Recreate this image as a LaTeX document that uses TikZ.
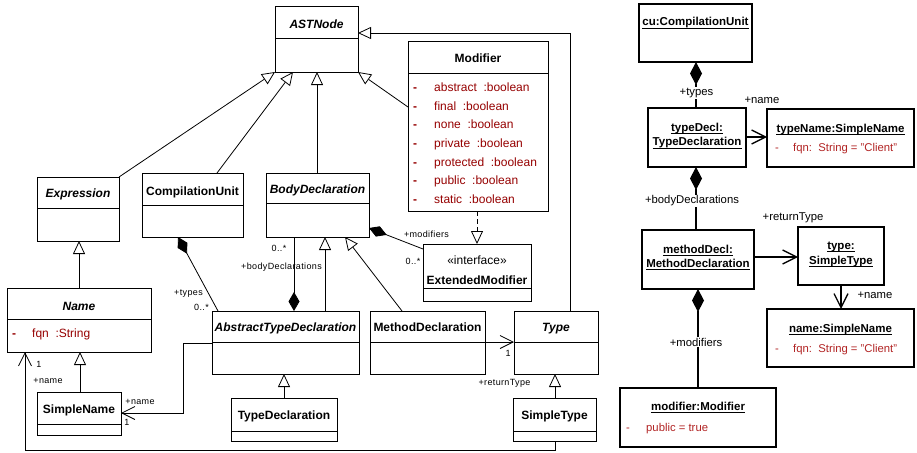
\documentclass[tikz,border=0pt]{standalone}
\usepackage{fontspec}
\setmainfont{Liberation Sans}
\newfontfamily\lblfont[LetterSpace=4]{Liberation Sans}
\usetikzlibrary{arrows.meta}
\definecolor{attrred}{RGB}{150,0,0}
\definecolor{valred}{RGB}{178,36,36}

% class box with one compartment line: name, x1, y1, x2, y2, y of compartment line
\newcommand\umlclass[6]{%
  \node[classbox, minimum width={(#4-#2)*1pt}, minimum height={(#5-#3)*1pt}] (#1) at ({(#2+#4)/2},{(#3+#5)/2}) {};
  \draw[line width=1pt] (#1.west |- 0,#6) -- (#1.east |- 0,#6);
}
% object box: name, x1, y1, x2, y2
\newcommand\umlobject[5]{%
  \node[objbox, minimum width={(#4-#2)*1pt}, minimum height={(#5-#3)*1pt}] (#1) at ({(#2+#4)/2},{(#3+#5)/2}) {};
}
% underlined object title line: name, x, baseline y, text
\newcommand\objtitle[4]{%
  \node[otitle, anchor=base] (#1) at (#2,#3) {#4};
  \draw[line width=1.1pt] ([yshift=-2.6pt]#1.base west) -- ([yshift=-2.6pt]#1.base east);
}

\tikzset{
  classbox/.style={draw, line width=1pt, inner sep=0pt, outer sep=0pt},
  objbox/.style={draw, line width=1.3pt, inner sep=0pt, outer sep=0pt},
  ctitle/.style={font=\fontsize{12}{14}\selectfont\bfseries, inner sep=0pt, anchor=base},
  cititle/.style={font=\fontsize{12}{14}\selectfont\bfseries\itshape, inner sep=0pt, anchor=base},
  stereo/.style={font=\fontsize{12}{14}\selectfont, inner sep=0pt, anchor=base},
  otitle/.style={font=\fontsize{11.5}{13}\selectfont\bfseries, inner sep=0pt},
  attrtext/.style={font=\fontsize{12}{14}\selectfont, text=attrred, anchor=base west, inner sep=0pt},
  attrdash/.style={font=\fontsize{12}{14}\selectfont\bfseries, text=attrred, anchor=base west, inner sep=0pt},
  valtext/.style={font=\fontsize{11.3}{13}\selectfont, text=valred, anchor=base west, inner sep=0pt},
  rolelbl/.style={font=\lblfont\fontsize{9}{10}\selectfont, inner sep=0pt},
  orolelbl/.style={font=\fontsize{11.3}{13}\selectfont, inner sep=1pt, fill=white},
  gen/.style={line width=0.8pt, -{Triangle[open, length=13pt, width=12pt, fill=white]}},
  realize/.style={gen, dash pattern=on 5pt off 3pt},
  assoc/.style={line width=0.8pt, -{Straight Barb[length=13pt, width=13pt]}},
  comp/.style={line width=0.8pt, {Diamond[length=19pt, width=11pt]}-},
  oassoc/.style={line width=1.3pt, -{Straight Barb[length=14pt, width=14pt]}},
  ocomp/.style={line width=1.3pt, {Diamond[length=23pt, width=12pt]}-},
}

\begin{document}
\begin{tikzpicture}[x=1pt, y=-1pt]
\fill[white] (0,0) rectangle (917,452);
\useasboundingbox (0,0) rectangle (917,452);

% ---------------- class diagram ----------------
\umlclass{ast}{275}{7}{358}{72}{39}
\node[cititle] (ast-t) at (316.5,29) {ASTNode};

\umlclass{mod}{408}{42}{548}{211}{73}
\node[ctitle] (mod-t) at (478,63) {Modifier};
\foreach \a [count=\i] in {abstract, final, none, private, protected, public, static} {
  \node[attrdash] (mod-d\i) at (413,{91.5+(\i-1)*18.67}) {-};
  \node[attrtext] (mod-a\i) at (434,{91.5+(\i-1)*18.67}) {\a~~:boolean};
}

\umlclass{expr}{37}{177}{119}{241}{208}
\node[cititle] (expr-t) at (78,197) {Expression};

\umlclass{cu}{142}{173}{243}{237}{205}
\node[ctitle] (cu-t) at (192.5,195) {CompilationUnit};

\umlclass{bd}{266}{173}{369}{237}{203}
\node[cititle] (bd-t) at (317.5,193.5) {BodyDeclaration};

\umlclass{name}{7}{288}{151}{352}{319}
\node[cititle] (name-t) at (79,310) {Name};
\node[attrdash] (name-d) at (12,337) {-};
\node[attrtext] (name-a) at (32,337) {fqn~~:String};

\umlclass{sn}{37}{392}{121}{435}{424}
\node[ctitle] (sn-t) at (79,413) {SimpleName};

\umlclass{atd}{212}{311}{359}{374}{342}
\node[cititle] (atd-t) at (285.5,331.5) {AbstractTypeDeclaration};

\umlclass{md}{370}{311}{485}{374}{342}
\node[ctitle] (md-t) at (427.5,331.5) {MethodDeclaration};

\umlclass{type}{514}{311}{598}{374}{342}
\node[cititle] (type-t) at (556,331.5) {Type};

\umlclass{td}{231}{398}{337}{441}{431}
\node[ctitle] (td-t) at (284,419.5) {TypeDeclaration};

\umlclass{st}{513}{398}{596}{441}{431}
\node[ctitle] (st-t) at (554.5,419.5) {SimpleType};

\umlclass{em}{423}{244}{531}{301}{288}
\node[stereo] (em-s) at (477,264.5) {«interface»};
\node[ctitle] (em-t) at (477,284) {ExtendedModifier};

% generalizations and realization
\draw[gen] (expr.north east) -- (ast.south west);
\draw[gen] (cu.north -| 217,0) -- (ast.south -| 293,0);
\draw[gen] (bd.north -| 317,0) -- (ast.south -| 317,0);
\draw[gen] (mod.west |- 0,107) -- (ast.south east);
\draw[gen] (type.north -| 570,0) |- (ast.east |- 0,33);
\draw[gen] (name.north -| 79,0) -- (expr.south -| 79,0);
\draw[gen] (sn.north -| 80,0) -- (name.south -| 80,0);
\draw[gen] (md.north -| 402,0) -- (bd.south -| 345,0);
\draw[gen] (atd.north -| 325,0) -- (bd.south -| 325,0);
\draw[gen] (td.north -| 284,0) -- (atd.south -| 284,0);
\draw[gen] (st.north -| 555,0) -- (type.south -| 555,0);
\draw[realize] (mod.south -| 477,0) -- (em.north -| 477,0);

% compositions
\draw[comp] (bd.east |- 0,228) -- (em.west |- 0,249);
\draw[comp] (atd.north -| 294,0) -- (bd.south -| 294,0);
\draw[comp] (cu.south -| 178,0) -- (atd.north -| 218,0);

% associations
\draw[assoc] (atd.west |- 0,343) -| (183,413) -- (sn.east |- 0,413);
\draw[assoc] (st.south -| 555,0) |- (25,450) -- (name.south -| 25,0);
\draw[assoc] (md.east |- 0,342) -- (type.west |- 0,342);

% role names and multiplicities
\node[rolelbl] (l-bd0) at (279,248) {0..*};
\node[rolelbl] (l-bd) at (281.5,267) {+bodyDeclarations};
\node[rolelbl] (l-ty) at (188.5,294) {+types};
\node[rolelbl] (l-ty0) at (201.5,307) {0..*};
\node[rolelbl] (l-mo) at (426.5,234) {+modifiers};
\node[rolelbl] (l-mo0) at (413,261) {0..*};
\node[rolelbl] (l-sn) at (140,402) {+name};
\node[rolelbl] (l-sn1) at (127,422) {1};
\node[rolelbl] (l-nm1) at (39,364) {1};
\node[rolelbl] (l-nm) at (48,381) {+name};
\node[rolelbl] (l-rt1) at (508,353) {1};
\node[rolelbl] (l-rt) at (504.5,383) {+returnType};

% ---------------- object diagram ----------------
\umlobject{ocu}{639}{4}{752}{62}
\objtitle{ocu-t}{695.5}{26}{cu:CompilationUnit}

\umlobject{otd}{648}{108}{746}{167}
\objtitle{otd-t1}{697}{131}{typeDecl:}
\objtitle{otd-t2}{697}{145.5}{TypeDeclaration}

\umlobject{otn}{767}{109}{914}{167}
\objtitle{otn-t}{840.5}{132}{typeName:SimpleName}
\node[valtext] (otn-d) at (775,151.5) {-};
\node[valtext] (otn-a) at (793,151.5) {fqn:~~String = "Client"};

\umlobject{omd}{642}{230}{754}{289}
\objtitle{omd-t1}{698}{253}{methodDecl:}
\objtitle{omd-t2}{698}{267}{MethodDeclaration}

\umlobject{ost}{798}{227}{884}{285}
\objtitle{ost-t1}{841}{249}{type:}
\objtitle{ost-t2}{841}{264}{SimpleType}

\umlobject{osn}{767}{309}{914}{367}
\objtitle{osn-t}{840.5}{332}{name:SimpleName}
\node[valtext] (osn-d) at (775,352) {-};
\node[valtext] (osn-a) at (793,352) {fqn:~~String = "Client"};

\umlobject{omod}{620}{388}{776}{447}
\objtitle{omod-t}{698}{410}{modifier:Modifier}
\node[valtext] (omod-d) at (626,431) {-};
\node[valtext] (omod-a) at (646,431) {public = true};

% links
\draw[ocomp] (ocu.south -| 696,0) -- (otd.north -| 696,0);
\draw[oassoc] (otd.east |- 0,137) -- (otn.west |- 0,137);
\draw[ocomp] (otd.south -| 696,0) -- (omd.north -| 696,0);
\draw[oassoc] (omd.east |- 0,257) -- (ost.west |- 0,257);
\draw[oassoc] (ost.south -| 841,0) -- (osn.north -| 841,0);
\draw[ocomp] (omd.south -| 698,0) -- (omod.north -| 698,0);

\node[orolelbl] (o-ty) at (696.5,93) {+types};
\node[orolelbl, fill=none] (o-nm) at (762,100) {+name};
\node[orolelbl] (o-bd) at (692,201) {+bodyDeclarations};
\node[orolelbl, fill=none] (o-rt) at (793,218) {+returnType};
\node[orolelbl, fill=none] (o-nm2) at (875,295) {+name};
\node[orolelbl] (o-mo) at (696,342) {+modifiers};
\end{tikzpicture}
\end{document}
